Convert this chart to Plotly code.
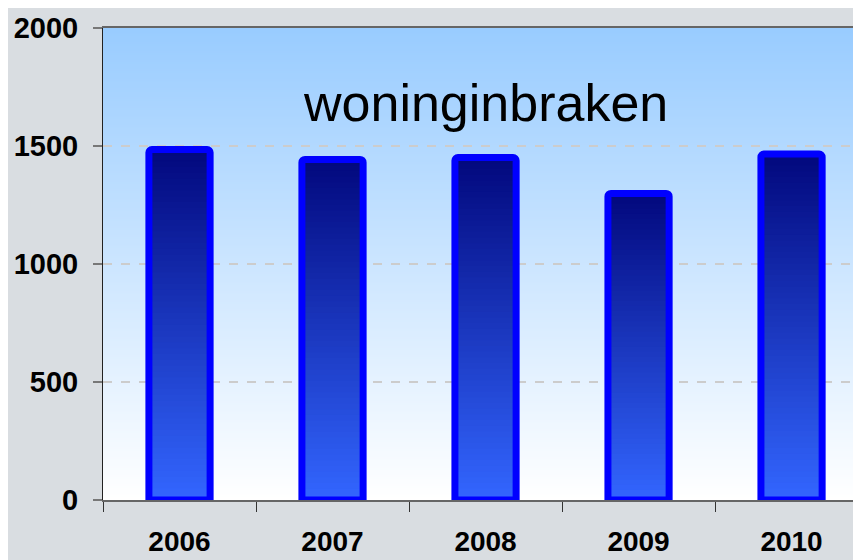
import base64, struct, zlib
import plotly.graph_objects as go

# ---- data ----
years = ["2006", "2007", "2008", "2009", "2010"]
counts = [1485, 1443, 1451, 1299, 1466]
y_ticks = [0, 500, 1000, 1500, 2000]
title_text = "woninginbraken"

# ---- styles ----
BAR_TOP = (2, 8, 125)
BAR_BOTTOM = (51, 102, 255)
BG_TOP = (153, 204, 255)
BG_BOTTOM = (255, 255, 255)
N_SEG = 60
BAR_W = 0.40
FONT = "Liberation Sans, Arial, sans-serif"


def lerp(a, b, t):
    return tuple(round(a[i] + (b[i] - a[i]) * t) for i in range(3))


def gradient_png(top, bottom, h=256):
    raw = b""
    for r in range(h):
        c = lerp(top, bottom, r / (h - 1))
        raw += b"\x00" + bytes(c)

    def chunk(tag, data):
        return (struct.pack(">I", len(data)) + tag + data
                + struct.pack(">I", zlib.crc32(tag + data) & 0xffffffff))

    png = (b"\x89PNG\r\n\x1a\n"
           + chunk(b"IHDR", struct.pack(">IIBBBBB", 1, h, 8, 2, 0, 0, 0))
           + chunk(b"IDAT", zlib.compress(raw))
           + chunk(b"IEND", b""))
    return "data:image/png;base64," + base64.b64encode(png).decode()


fig = go.Figure()

# gradient fill of bars: overlapping segments, each from its base up to the top
for j in range(N_SEG):
    t = (j + 0.5) / N_SEG
    col = "rgb(%d,%d,%d)" % lerp(BAR_BOTTOM, BAR_TOP, t)
    bases = [v * j / N_SEG for v in counts]
    heights = [v - b for v, b in zip(counts, bases)]
    fig.add_bar(x=years, y=heights, base=bases, width=BAR_W,
                marker=dict(color=col, line=dict(width=0)),
                hoverinfo="skip", showlegend=False)

# outline
fig.add_bar(x=years, y=counts, width=BAR_W,
            marker=dict(color="rgba(0,0,0,0)",
                        line=dict(color="#0000ff", width=7),
                        cornerradius=3),
            hoverinfo="skip", showlegend=False)

fig.add_annotation(text=title_text, x=2, xref="x", y=0.841, yref="paper",
                   xanchor="center", yanchor="middle", showarrow=False,
                   font=dict(family=FONT, size=52, color="black"))

fig.add_layout_image(source=gradient_png(BG_TOP, BG_BOTTOM),
                     xref="paper", yref="paper", x=0, y=1, sizex=1, sizey=1,
                     sizing="stretch", xanchor="left", yanchor="top",
                     layer="below")

fig.update_layout(
    width=853, height=552,
    margin=dict(l=95, r=0, t=20, b=60, autoexpand=False),
    barmode="overlay",
    paper_bgcolor="#d9dde1",
    plot_bgcolor="white",
    showlegend=False,
    font=dict(family=FONT, color="black"),
)

fig.update_xaxes(
    type="category", range=[-0.5, 4.454], automargin=False,
    tickson="boundaries", ticks="outside", ticklen=10, tickwidth=1,
    tickcolor="#333333",
    showline=True, linecolor="#666666", linewidth=2, mirror=True,
    showgrid=False, zeroline=False,
    ticklabelstandoff=15,
    tickfont=dict(family=FONT, size=28, color="black", weight="bold"),
)

fig.update_yaxes(
    range=[0, 2000], tickvals=y_ticks, automargin=False,
    ticks="outside", ticklen=9, tickwidth=2, tickcolor="#777777",
    showline=True, linecolor="#222222", linewidth=1,
    showgrid=True, gridcolor="#cccccc", griddash="dash", gridwidth=1.5,
    zeroline=False,
    ticklabelstandoff=9,
    tickfont=dict(family=FONT, size=29, color="black", weight="bold"),
)

fig.write_html("out.html")
